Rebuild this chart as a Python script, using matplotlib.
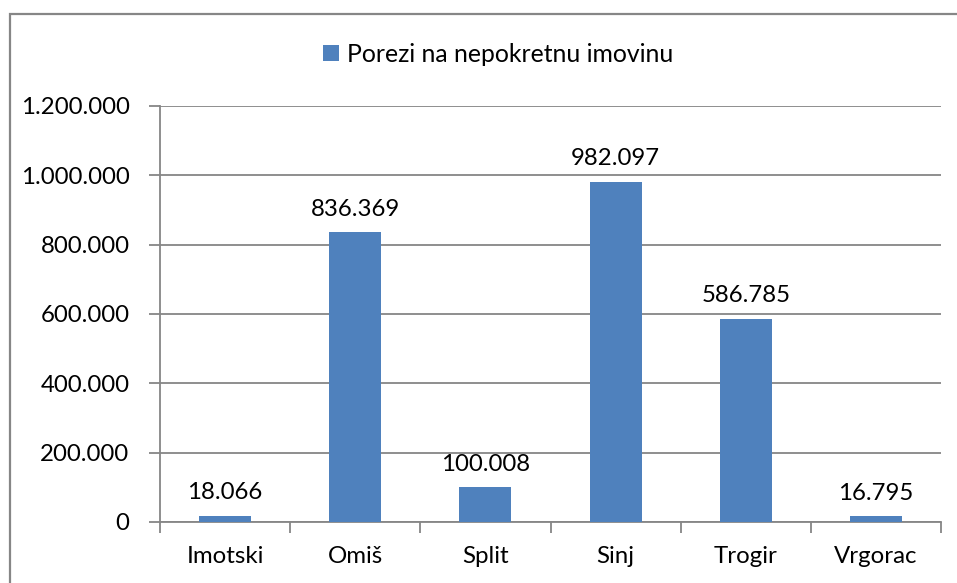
import numpy as np
import matplotlib.pyplot as plt
from matplotlib.patches import Rectangle
from matplotlib.ticker import FuncFormatter, FixedLocator

plt.rcParams['font.family'] = ['Lato', 'DejaVu Sans']

gradovi = ['Imotski', 'Omiš', 'Split', 'Sinj', 'Trogir', 'Vrgorac']
porezi = [18066, 836369, 100008, 982097, 586785, 16795]
y_ticks = [0, 200000, 400000, 600000, 800000, 1000000, 1200000]

blue = '#4F81BD'
grey = '#868686'
fs = 17.3


def tocke(v, pos=None):
    return f'{int(v):,}'.replace(',', '.')


fig = plt.figure(figsize=(9.57, 5.83), dpi=100)
ax = fig.add_axes([160 / 957, 61 / 583, 781 / 957, 416 / 583])

x = np.arange(len(gradovi))
bars = ax.bar(x, porezi, width=0.4, color=blue, label='Porezi na nepokretnu imovinu', zorder=3)

for xi, v in zip(x, porezi):
    ax.annotate(tocke(v), (xi, v), xytext=(0, 9), textcoords='offset points',
                ha='center', va='bottom', fontsize=fs)

ax.set_xlim(-0.5, len(gradovi) - 0.5)
ax.set_ylim(0, 1200000)
ax.set_yticks(y_ticks)
ax.yaxis.set_major_formatter(FuncFormatter(tocke))
ax.yaxis.grid(True, color=grey, linewidth=1.3, zorder=0)

ax.set_xticks(x)
ax.set_xticklabels(gradovi)
ax.xaxis.set_minor_locator(FixedLocator(np.arange(-0.5, len(gradovi), 1)))
ax.tick_params(axis='x', which='major', length=0, pad=17, labelsize=fs)
ax.tick_params(axis='x', which='minor', length=8, width=1.3, color=grey)
ax.tick_params(axis='y', length=8, width=1.3, color=grey, pad=14, labelsize=fs)

for s in ['top', 'right']:
    ax.spines[s].set_visible(False)
for s in ['left', 'bottom']:
    ax.spines[s].set_color(grey)
    ax.spines[s].set_linewidth(1.3)

fig.legend(handles=[bars], loc='center', bbox_to_anchor=(498 / 957, 1 - 54 / 583),
           frameon=False, fontsize=17.8, handlelength=0.65, handleheight=0.65,
           handletextpad=0.3)

fig.patches.append(Rectangle((9.5 / 957, -0.1), 1.2, 1 - 13.5 / 583 + 0.1,
                             transform=fig.transFigure, fill=False,
                             edgecolor=grey, linewidth=1.6))

fig.savefig('out.png', dpi=100)
